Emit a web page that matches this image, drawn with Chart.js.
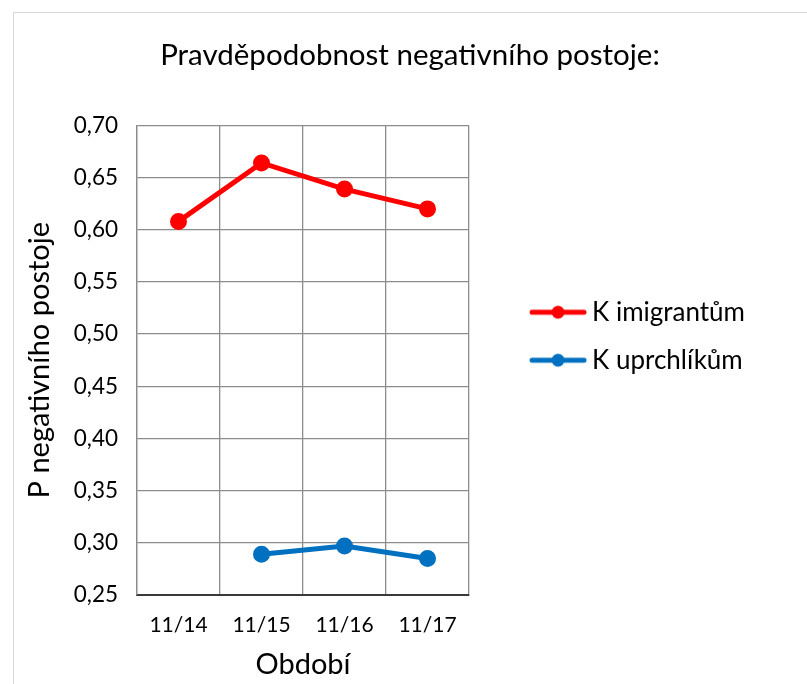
<!DOCTYPE html>
<html>
<head>
<meta charset="utf-8">
<script src="https://cdn.jsdelivr.net/npm/chart.js@4/dist/chart.umd.min.js"></script>
<style>
  html, body { margin: 0; padding: 0; background: #fff; }
  #wrap { position: relative; width: 807px; height: 684px; overflow: hidden; }
  #frame { position: absolute; left: 13px; top: 12px; width: 900px; height: 800px; border: 1px solid #d9d9d9; }
  #chart { position: absolute; left: 0; top: 0; }
</style>
</head>
<body>
<div id="wrap">
  <div id="frame"></div>
  <canvas id="chart" width="807" height="684"></canvas>
</div>
<script>
// data
const periods = ['11/14', '11/15', '11/16', '11/17'];
const immigrants = [0.608, 0.664, 0.639, 0.620];
const refugees = [null, 0.289, 0.297, 0.285];
const yTicks = [0.25, 0.30, 0.35, 0.40, 0.45, 0.50, 0.55, 0.60, 0.65, 0.70];

const RED = '#ff0000';
const BLUE = '#0070c0';
const FONT = 'Lato, "Open Sans", sans-serif';
const MARK_W = 88;       // legend box width
const IMG_W = 106;       // marker image is a bit wider so it reaches close to the text
const LEGEND_EXTRA = 52; // empty room right of the legend text

// line+dot marker for the legend (blank space on the left keeps the gap from the plot)
function legendMarker(color) {
  const c = document.createElement('canvas');
  c.width = IMG_W; c.height = 16;
  const g = c.getContext('2d');
  if (color) {
    g.strokeStyle = color;
    g.lineWidth = 5;
    g.lineCap = 'round';
    g.beginPath(); g.moveTo(IMG_W - 56, 8); g.lineTo(IMG_W - 4, 8); g.stroke();
    g.fillStyle = color;
    g.beginPath(); g.arc(IMG_W - 30, 8, 6.5, 0, Math.PI * 2); g.fill();
  }
  return c;
}

// widen the legend box so the title centres over the whole frame
const legendRoom = {
  id: 'legendRoom',
  afterInit(chart) {
    const lg = chart.legend;
    if (!lg) return;
    const fit = lg.fit.bind(lg);
    lg.fit = function () { fit(); this.width += LEGEND_EXTRA; };
  },
};

const data = {
  labels: periods,
  datasets: [
    {
      label: 'K imigrantům',
      data: immigrants,
      borderColor: RED,
      backgroundColor: RED,
      borderWidth: 5,
      pointRadius: 6,
      pointHoverRadius: 6,
    },
    {
      label: 'K uprchlíkům',
      data: refugees,
      borderColor: BLUE,
      backgroundColor: BLUE,
      borderWidth: 5,
      pointRadius: 6,
      pointHoverRadius: 6,
    },
  ],
};

const config = {
  type: 'line',
  data,
  plugins: [legendRoom],
  options: {
    responsive: false,
    animation: false,
    layout: { padding: { left: 13, top: 12, right: 0, bottom: 0 } },
    plugins: {
      tooltip: { enabled: false },
      title: {
        display: true,
        text: 'Pravděpodobnost negativního postoje:',
        color: '#000',
        font: { family: FONT, size: 29.5, weight: 'normal' },
        padding: { top: 26, bottom: 52 },
      },
      legend: {
        position: 'right',
        fullSize: false,
        maxWidth: 500,
        labels: {
          color: '#000',
          font: { family: FONT, size: 26 },
          usePointStyle: true,
          pointStyleWidth: MARK_W,
          padding: 22,
          generateLabels(chart) {
            const items = chart.data.datasets.map((ds, i) => ({
              text: ds.label,
              pointStyle: legendMarker(ds.borderColor),
              fontColor: '#000',
              datasetIndex: i,
              hidden: false,
              lineWidth: 0,
            }));
            // empty slot so the two entries sit a bit above the middle, as in the original
            items.push({ text: '', pointStyle: legendMarker(null), fontColor: '#000', hidden: false, lineWidth: 0 });
            return items;
          },
        },
      },
    },
    scales: {
      x: {
        offset: true,
        grid: { offset: true, color: '#8c8c8c', lineWidth: 1.3, drawTicks: false },
        border: { color: '#3a3a3a', width: 2 },
        ticks: { color: '#000', font: { family: FONT, size: 21 }, padding: 18, maxRotation: 0 },
        title: {
          display: true,
          text: 'Období',
          color: '#000',
          font: { family: FONT, size: 29 },
          padding: { top: 4, bottom: 1.5 },
        },
        afterFit(scale) { scale.height = 89; },
      },
      y: {
        min: 0.25,
        max: 0.70,
        grid: { color: '#8c8c8c', lineWidth: 1.3, drawTicks: false },
        border: { color: '#8c8c8c', width: 1.3 },
        afterBuildTicks(scale) { scale.ticks = yTicks.map(v => ({ value: v })); },
        ticks: {
          color: '#000',
          font: { family: FONT, size: 22.5 },
          padding: 19,
          callback: v => v.toFixed(2).replace('.', ','),
        },
        title: {
          display: true,
          text: 'P negativního postoje',
          color: '#000',
          font: { family: FONT, size: 29 },
          padding: { top: 9.5, bottom: 0 },
        },
        afterFit(scale) { scale.width = 124; },
      },
    },
  },
};

const ctx = document.querySelector('#chart');
new Chart(ctx, config);
</script>
</body>
</html>
